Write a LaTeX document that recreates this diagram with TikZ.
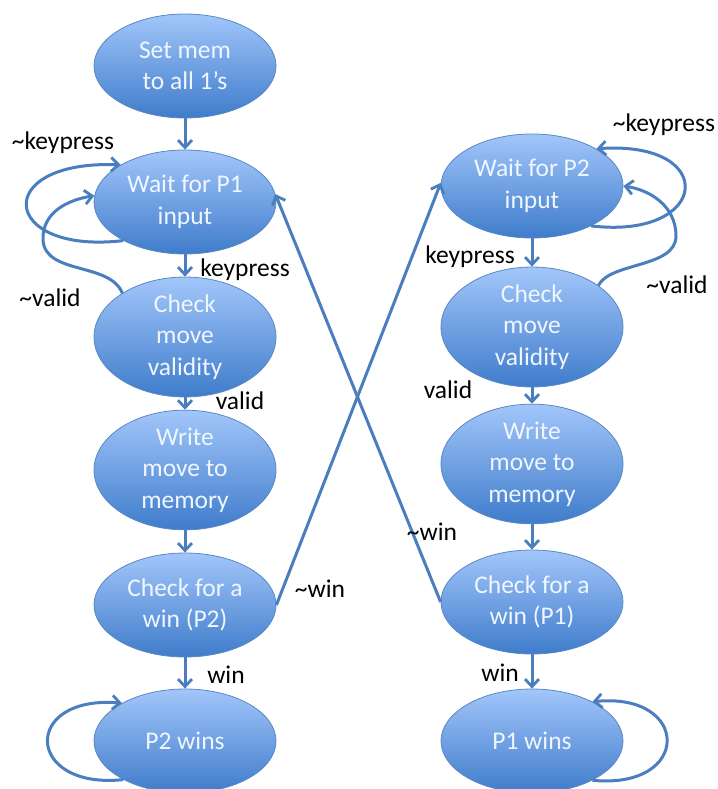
\documentclass[tikz,border=0pt]{standalone}
\usepackage{fontspec}
\setmainfont{Carlito}
\usetikzlibrary{shapes.geometric,arrows.meta}
\definecolor{flowblue}{HTML}{4A7EBE}
\definecolor{stopA}{HTML}{A2C6FA}
\definecolor{stopB}{HTML}{3F7CCB}
\definecolor{rim}{HTML}{5A88C4}
\definecolor{statetext}{HTML}{F0F6FF}
\begin{document}
\begin{tikzpicture}[x=1pt,y=-1pt,
  state/.style={ellipse, draw=rim, line width=0.8pt,
    top color=stopA, bottom color=stopB,
    minimum width=182pt, minimum height=104pt, inner sep=0pt,
    align=center, text=statetext,
    font=\fontsize{25.5}{31.5}\selectfont},
  flow/.style={draw=flowblue, line width=3pt,
    -{Straight Barb[length=7.5pt,width=14pt,line width=2.8pt]}},
  lbl/.style={font=\fontsize{25.5}{28}\selectfont, text=black, inner sep=0pt}]
\useasboundingbox (0,0) rectangle (717,789);
\clip (0,0) rectangle (717,789);

% left column: player 1 turn
\node[state] (set)  at (185,66)  {Set mem\\to all 1’s};
\node[state] (w1)   at (185,202) {Wait for P1\\input};
\node[state] (c1)   at (185,337) {Check\\move\\validity};
\node[state] (m1)   at (185,470) {Write\\move to\\memory};
\node[state] (win2) at (185,605) {Check for a\\win (P2)};
\node[state] (p2)   at (185,741) {P2 wins};

% right column: player 2 turn
\node[state] (w2)   at (532,186) {Wait for P2\\input};
\node[state] (c2)   at (532,327) {Check\\move\\validity};
\node[state] (m2)   at (532,464) {Write\\move to\\memory};
\node[state] (win1) at (532,602) {Check for a\\win (P1)};
\node[state] (p1)   at (532,741) {P1 wins};

% straight transitions
\draw[flow] (set) -- (w1);
\draw[flow] (w1) -- (c1);
\draw[flow] (c1) -- (m1);
\draw[flow] (m1) -- (win2);
\draw[flow] (win2) -- (p2);
\draw[flow] (w2) -- (c2);
\draw[flow] (c2) -- (m2);
\draw[flow] (m2) -- (win1);
\draw[flow] (win1) -- (p1);

% crossing transitions between the turns
\draw[flow] (win2.east) -- (w2.178);
\draw[flow] (win1.west) -- (w1.5);

% waiting loops
\draw[flow] (w1.212) .. controls (0,255) and (-10,160) .. (w1.150);
\draw[flow] (w2.326) .. controls (710,240) and (720,140) .. (w2.30);

% invalid move returns
\draw[flow] (c1.145) .. controls (110,262) and (45,275) .. (43,240)
  .. controls (42,212) and (68,200) .. (w1.176);
\draw[flow] (c2.32) .. controls (610,262) and (676,268) .. (676,236)
  .. controls (676,206) and (650,190) .. (w2.0);

% final states
\draw[flow] (p2.212) .. controls (25,790) and (21,695) .. (p2.149);
\draw[flow] (p1.327) .. controls (692,790) and (691,692) .. (p1.33);

% transition labels
\node[lbl] (lk1) at (63,143)  {\textasciitilde keypress};
\node[lbl] (lp1) at (245,270) {keypress};
\node[lbl] (lv1) at (50,298)  {\textasciitilde valid};
\node[lbl] (lo1) at (240,401) {valid};
\node[lbl] (ln1) at (320,589) {\textasciitilde win};
\node[lbl] (lw1) at (226,675) {win};
\node[lbl] (lk2) at (664,125) {\textasciitilde keypress};
\node[lbl] (lp2) at (470,257) {keypress};
\node[lbl] (lv2) at (677,285) {\textasciitilde valid};
\node[lbl] (lo2) at (448,390) {valid};
\node[lbl] (ln2) at (432,532) {\textasciitilde win};
\node[lbl] (lw2) at (500,673) {win};
\end{tikzpicture}
\end{document}
